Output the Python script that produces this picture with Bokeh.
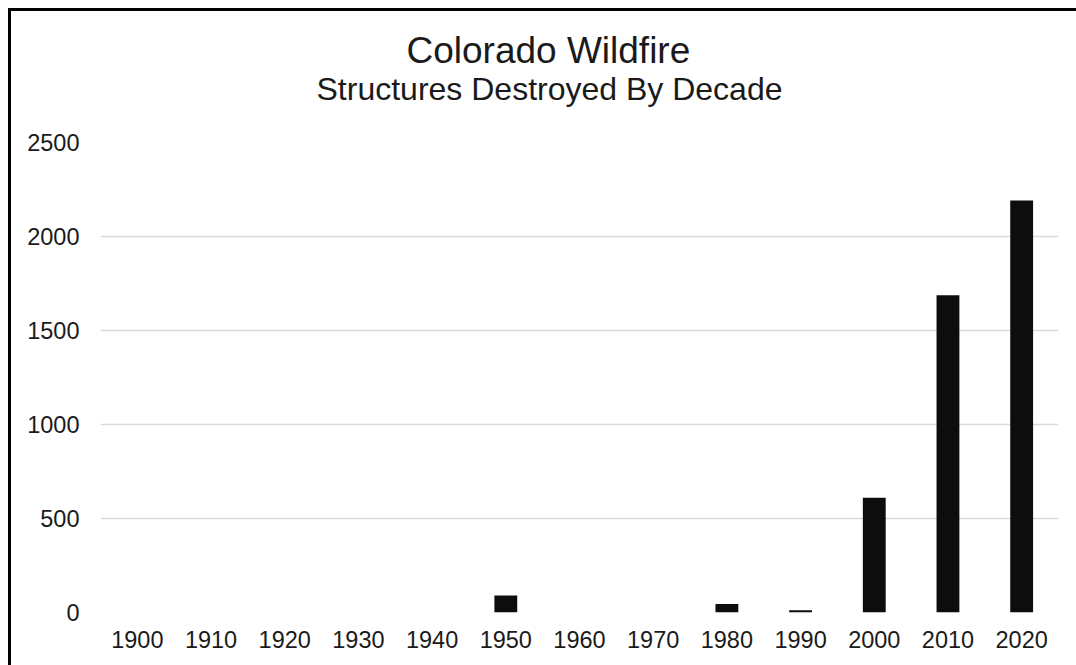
from bokeh.plotting import figure
from bokeh.layouts import column
from bokeh.models import Title, FixedTicker, ColumnDataSource, Range1d
from bokeh.embed import file_html
from bokeh.resources import INLINE

# Structures destroyed by Colorado wildfires, grouped by decade
decades = ["1900", "1910", "1920", "1930", "1940", "1950", "1960",
           "1970", "1980", "1990", "2000", "2010", "2020"]
structures = [0, 0, 0, 0, 0, 90, 0, 0, 45, 12, 610, 1688, 2192]
y_ticks = [0, 500, 1000, 1500, 2000, 2500]

FONT = "Liberation Sans"
TEXT = "#1a1a1a"

src = ColumnDataSource(data=dict(decade=decades, structures=structures))

chart = figure(
    x_range=decades,
    y_range=Range1d(0, 2500),
    width=1065, height=654,
    output_backend="svg",
    toolbar_location=None,
    min_border_left=89, min_border_right=18,
    min_border_top=131, min_border_bottom=53,
    background_fill_color="white", border_fill_color="white",
)

chart.vbar(x="decade", top="structures", width=0.31, source=src,
           fill_color="#0d0d0d", line_color=None)

# titles: the main title sits outermost, the subtitle next to the plot
chart.title.text = "Colorado Wildfire"
chart.title.text_font = FONT
chart.title.text_font_size = "37px"
chart.title.text_font_style = "normal"
chart.title.text_color = TEXT
chart.title.align = "left"
chart.title.offset = 306
chart.title.standoff = -76

subtitle = Title(text="Structures Destroyed By Decade", text_font=FONT,
                 text_font_size="32px", text_font_style="normal",
                 text_color=TEXT, align="left", offset=216, standoff=72)
chart.add_layout(subtitle, "above")

# axes
for ax in (chart.xaxis[0], chart.yaxis[0]):
    ax.axis_line_color = None
    ax.major_tick_line_color = None
    ax.minor_tick_line_color = None
    ax.major_tick_out = 0
    ax.major_tick_in = 0
    ax.major_label_text_font = FONT
    ax.major_label_text_font_size = "23.5px"
    ax.major_label_text_color = TEXT

chart.xaxis.major_label_standoff = 18
chart.yaxis.major_label_standoff = 21
chart.yaxis.ticker = FixedTicker(ticks=y_ticks)

chart.xgrid.visible = False
chart.ygrid.grid_line_color = "#d9d9d9"
chart.ygrid.grid_line_width = 1.5
chart.outline_line_color = None

# chart-area border on the left and top; the box continues past the
# right and bottom edges of the page
p = column(chart, margin=(8, 0, 0, 8),
           styles={"border-left": "3px solid #000", "border-top": "3px solid #000",
                   "overflow": "hidden"})

open("out.html", "w").write(file_html(p, INLINE))
